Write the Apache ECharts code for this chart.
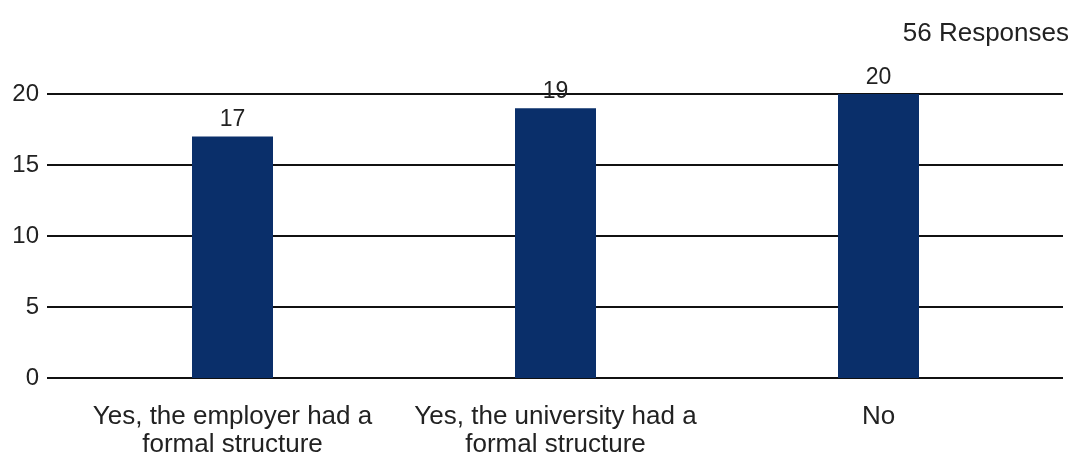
<!DOCTYPE html>
<html>
<head>
<meta charset="utf-8">
<style>
  html, body { margin: 0; padding: 0; background: #ffffff; }
  #chart { width: 1074px; height: 458px; }
</style>
<script src="https://cdn.jsdelivr.net/npm/echarts@6/dist/echarts.min.js"></script>
</head>
<body>
<div id="chart"></div>
<script>
// Answers to the survey question and how many respondents picked each
const categories = [
  'Yes, the employer had a\nformal structure',
  'Yes, the university had a\nformal structure',
  'No'
];
const counts = [17, 19, 20];
const totalLabel = '56 Responses';
const yTicks = { min: 0, max: 20, interval: 5 };

const FONT = '"Liberation Sans", Arial, sans-serif';
const TEXT = '#222222';
const BAR = '#0a2f6a';

const chart = echarts.init(document.getElementById('chart'), null, { renderer: 'canvas' });

chart.setOption({
  animation: false,
  backgroundColor: '#ffffff',
  title: {
    text: totalLabel,
    right: 0,
    top: 16,
    textStyle: { fontFamily: FONT, fontSize: 26, fontWeight: 'normal', color: TEXT }
  },
  grid: [
    // wide grid carrying the value axis and its full-width gridlines
    { left: 47, right: 11, top: 94, bottom: 80, containLabel: false, outerBoundsMode: 'none' },
    // inner grid where the category bars sit
    { left: 71, right: 34, top: 94, bottom: 80, containLabel: false, outerBoundsMode: 'none' }
  ],
  xAxis: [
    { gridIndex: 0, type: 'category', data: categories, show: false },
    {
      gridIndex: 1,
      type: 'category',
      data: categories,
      axisLine: { show: false },
      axisTick: { show: false },
      axisLabel: {
        interval: 0,
        margin: 25,
        fontFamily: FONT,
        fontSize: 26,
        lineHeight: 28,
        color: TEXT,
        align: 'center'
      }
    }
  ],
  yAxis: [
    {
      gridIndex: 0,
      type: 'value',
      min: yTicks.min,
      max: yTicks.max,
      interval: yTicks.interval,
      axisLine: { show: false },
      axisTick: { show: false },
      axisLabel: { margin: 8, fontFamily: FONT, fontSize: 24, color: TEXT },
      splitLine: { show: true, lineStyle: { color: '#111111', width: 2 } }
    },
    {
      gridIndex: 1,
      type: 'value',
      min: yTicks.min,
      max: yTicks.max,
      interval: yTicks.interval,
      show: false,
      splitLine: { show: false }
    }
  ],
  series: [
    {
      type: 'bar',
      xAxisIndex: 1,
      yAxisIndex: 1,
      data: counts,
      barWidth: 81,
      itemStyle: { color: BAR },
      z: 3,
      label: {
        show: true,
        position: 'top',
        distance: 5,
        fontFamily: FONT,
        fontSize: 23,
        color: TEXT
      }
    }
  ]
});
</script>
</body>
</html>
